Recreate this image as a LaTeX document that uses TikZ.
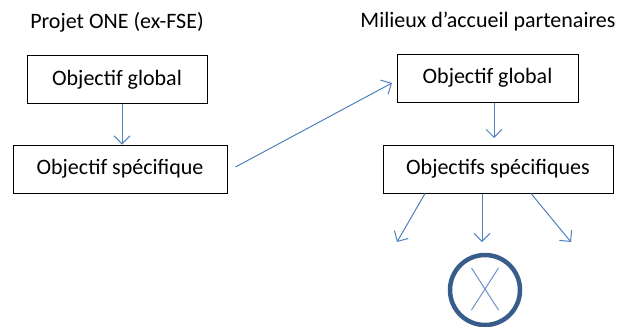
\documentclass[tikz,border=0pt]{standalone}
\usepackage{fontspec}
\setmainfont{Carlito}
\usetikzlibrary{arrows.meta}
\definecolor{arr}{HTML}{4F81BD}
\definecolor{circ}{HTML}{385D8A}
\begin{document}
\begin{tikzpicture}[x=1pt,y=-1pt,
  box/.style={draw=black,line width=1pt,minimum width=#1,minimum height=48pt,inner sep=0pt,font=\fontsize{22}{24}\selectfont},
  title/.style={font=\fontsize{22}{24}\selectfont,inner sep=0pt},
  conn/.style={draw=arr,line width=1pt,-{Straight Barb[length=8pt,width=16pt,line width=1pt]}}]
\useasboundingbox (0,0) rectangle (630,327);
\node[title] (t1) at (117,22) {Projet ONE (ex-FSE)};
\node[title] (t2) at (488,22) {Milieux d’accueil partenaires};
\node[box=180pt] (a1) at (117,79.5) {Objectif global};
\node[box=214pt] (a2) at (120,169) {Objectif spécifique};
\node[box=181pt] (b1) at (487.5,78) {Objectif global};
\node[box=230pt] (b2) at (498,169) {Objectifs spécifiques};
\coordinate (e1) at (397,242);
\coordinate (e2) at (482,242);
\coordinate (e3) at (571,242);
\draw[conn] (a1.south -| 122,0) -- (a2.north -| 122,0);
\draw[conn] (a2.east)++(8,-2) -- (392,83);
\draw[conn] (b1.south -| 494,0) -- (494,138);
\draw[conn] (b2.south -| 425,0) -- (e1);
\draw[conn] (b2.south -| 482,0) -- (e2);
\draw[conn] (b2.south -| 531,0) -- (e3);
\node[circle,draw=circ,line width=4.5pt,minimum size=70pt,inner sep=0pt] (c) at (485,290) {};
\draw[arr!85!white,line width=1pt] (471.5,268) -- (498.5,310) (498.5,268) -- (471.5,310);
\end{tikzpicture}
\end{document}
